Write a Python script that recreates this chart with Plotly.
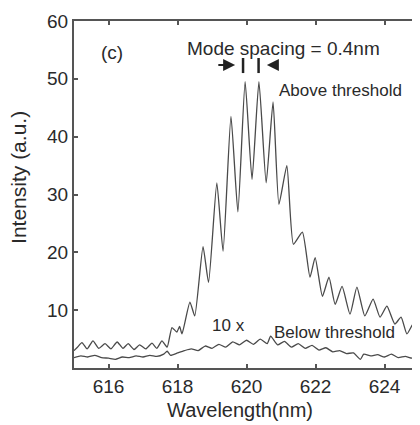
import plotly.graph_objects as go

# Above-threshold spectrum (wavelength nm, intensity a.u.)
above_wl = [615.0, 615.1, 615.23, 615.38, 615.55, 615.72, 615.9, 616.07, 616.25, 616.42,
            616.57, 616.74, 616.9, 617.08, 617.26, 617.4, 617.55, 617.7, 617.84, 617.98,
            618.06, 618.13, 618.36, 618.5, 618.74, 618.9, 619.14, 619.32, 619.55, 619.75,
            619.96, 620.16, 620.36, 620.57, 620.77, 620.94, 621.17, 621.36, 621.62, 621.84,
            621.99, 622.2, 622.39, 622.57, 622.77, 623.0, 623.2, 623.43, 623.67, 623.87,
            624.07, 624.3, 624.48, 624.65, 624.86, 625.0]
above_int = [3.0, 3.6, 4.4, 3.3, 4.7, 3.4, 4.2, 3.3, 4.5, 3.4,
             4.2, 3.2, 4.0, 3.3, 4.3, 3.4, 4.7, 3.6, 7.0, 6.2,
             7.2, 5.9, 11.4, 9.0, 21.0, 14.8, 32.0, 20.2, 43.5, 27.0,
             49.5, 32.6, 49.5, 32.0, 46.0, 28.3, 35.0, 21.4, 23.5, 15.7,
             19.1, 12.4, 15.7, 11.0, 14.1, 9.3, 14.0, 9.0, 11.9, 8.8,
             10.7, 7.6, 8.8, 5.9, 7.9, 5.5]

# Below-threshold spectrum (x10)
below_wl = [615.0, 615.2, 615.4, 615.6, 615.8, 616.0, 616.2, 616.4, 616.6, 616.8,
            617.0, 617.2, 617.4, 617.6, 617.7, 617.8, 618.0, 618.2, 618.4, 618.6,
            618.8, 619.0, 619.2, 619.4, 619.6, 619.8, 620.0, 620.2, 620.4, 620.6,
            620.7, 620.9, 621.1, 621.3, 621.5, 621.7, 621.9, 622.1, 622.3, 622.5,
            622.7, 622.9, 623.1, 623.3, 623.4, 623.6, 623.8, 624.0, 624.2, 624.4,
            624.6, 624.8, 625.0]
below_int = [1.8, 2.1, 1.9, 2.2, 1.8, 1.7, 1.5, 1.9, 1.8, 2.1,
             1.9, 2.2, 2.0, 2.4, 2.9, 2.2, 2.6, 3.0, 3.3, 3.0,
             3.8, 3.4, 4.1, 3.6, 4.5, 4.0, 4.8, 4.1, 5.0, 4.2,
             5.5, 4.0, 4.6, 3.6, 4.2, 3.4, 3.9, 3.1, 3.5, 2.8,
             3.0, 2.5, 2.6, 1.5, 2.4, 2.1, 2.3, 1.9, 2.4, 1.8,
             2.0, 1.7, 1.9]

x_ticks = [616, 618, 620, 622, 624]
y_ticks = [10, 20, 30, 40, 50, 60]

FONT = "Liberation Sans, Arial, sans-serif"
TXT = "#2a2a2a"
LINE = "#4a4a4a"

fig = go.Figure()
fig.add_trace(go.Scatter(x=above_wl, y=above_int, mode="lines",
                         line=dict(color=LINE, width=1.3, shape="spline", smoothing=0.5),
                         showlegend=False))
fig.add_trace(go.Scatter(x=below_wl, y=below_int, mode="lines",
                         line=dict(color=LINE, width=1.3, shape="spline", smoothing=0.5),
                         showlegend=False))

axis_common = dict(showgrid=False, zeroline=False, showline=True, linecolor="#555555",
                   linewidth=2, mirror="ticks", ticks="inside", ticklen=4, tickwidth=1.5,
                   tickcolor="#555555", automargin=False,
                   tickfont=dict(family=FONT, size=19, color=TXT))

fig.update_layout(
    width=412, height=417,
    margin=dict(l=66, r=1, t=13, b=57),
    paper_bgcolor="white", plot_bgcolor="white",
    xaxis=dict(range=[615, 625], tickvals=x_ticks, ticktext=[str(v) for v in x_ticks],
               **axis_common),
    yaxis=dict(range=[0, 60], tickvals=y_ticks, ticktext=[str(v) for v in y_ticks],
               **axis_common),
)

def txt(x, y, s, size=17):
    fig.add_annotation(x=x, y=y, text=s, showarrow=False, xref="x", yref="y",
                       font=dict(family=FONT, size=size, color=TXT))

# axis titles
fig.add_annotation(x=-0.163, y=33, xref="paper", yref="y", text="Intensity (a.u.)",
                   textangle=-90, showarrow=False, xanchor="center", yanchor="middle",
                   font=dict(family=FONT, size=21, color=TXT))
fig.add_annotation(x=619.8, y=-0.12, xref="x", yref="paper", text="Wavelength(nm)",
                   showarrow=False, xanchor="center", yanchor="middle",
                   font=dict(family=FONT, size=20, color=TXT))

txt(616.1, 54.5, "(c)", 19)
txt(621.06, 55.3, "Mode spacing = 0.4nm", 19)
txt(622.71, 47.9, "Above threshold", 17)
txt(619.49, 7.4, "10 x", 17)
txt(622.54, 6.2, "Below threshold", 17)

# spacing arrows
fig.add_annotation(x=619.67, y=52.4, ax=619.14, ay=52.4, xref="x", yref="y",
                   axref="x", ayref="y", text="", showarrow=True, arrowhead=2,
                   arrowsize=1.2, arrowwidth=2, arrowcolor="#222222")
fig.add_annotation(x=620.59, y=52.4, ax=620.94, ay=52.4, xref="x", yref="y",
                   axref="x", ayref="y", text="", showarrow=True, arrowhead=2,
                   arrowsize=1.2, arrowwidth=2, arrowcolor="#222222")
for xv in (619.9, 620.35):
    fig.add_shape(type="line", x0=xv, x1=xv, y0=51.0, y1=53.6, xref="x", yref="y",
                  line=dict(color="#222222", width=2.5))

fig.write_html("out.html")
